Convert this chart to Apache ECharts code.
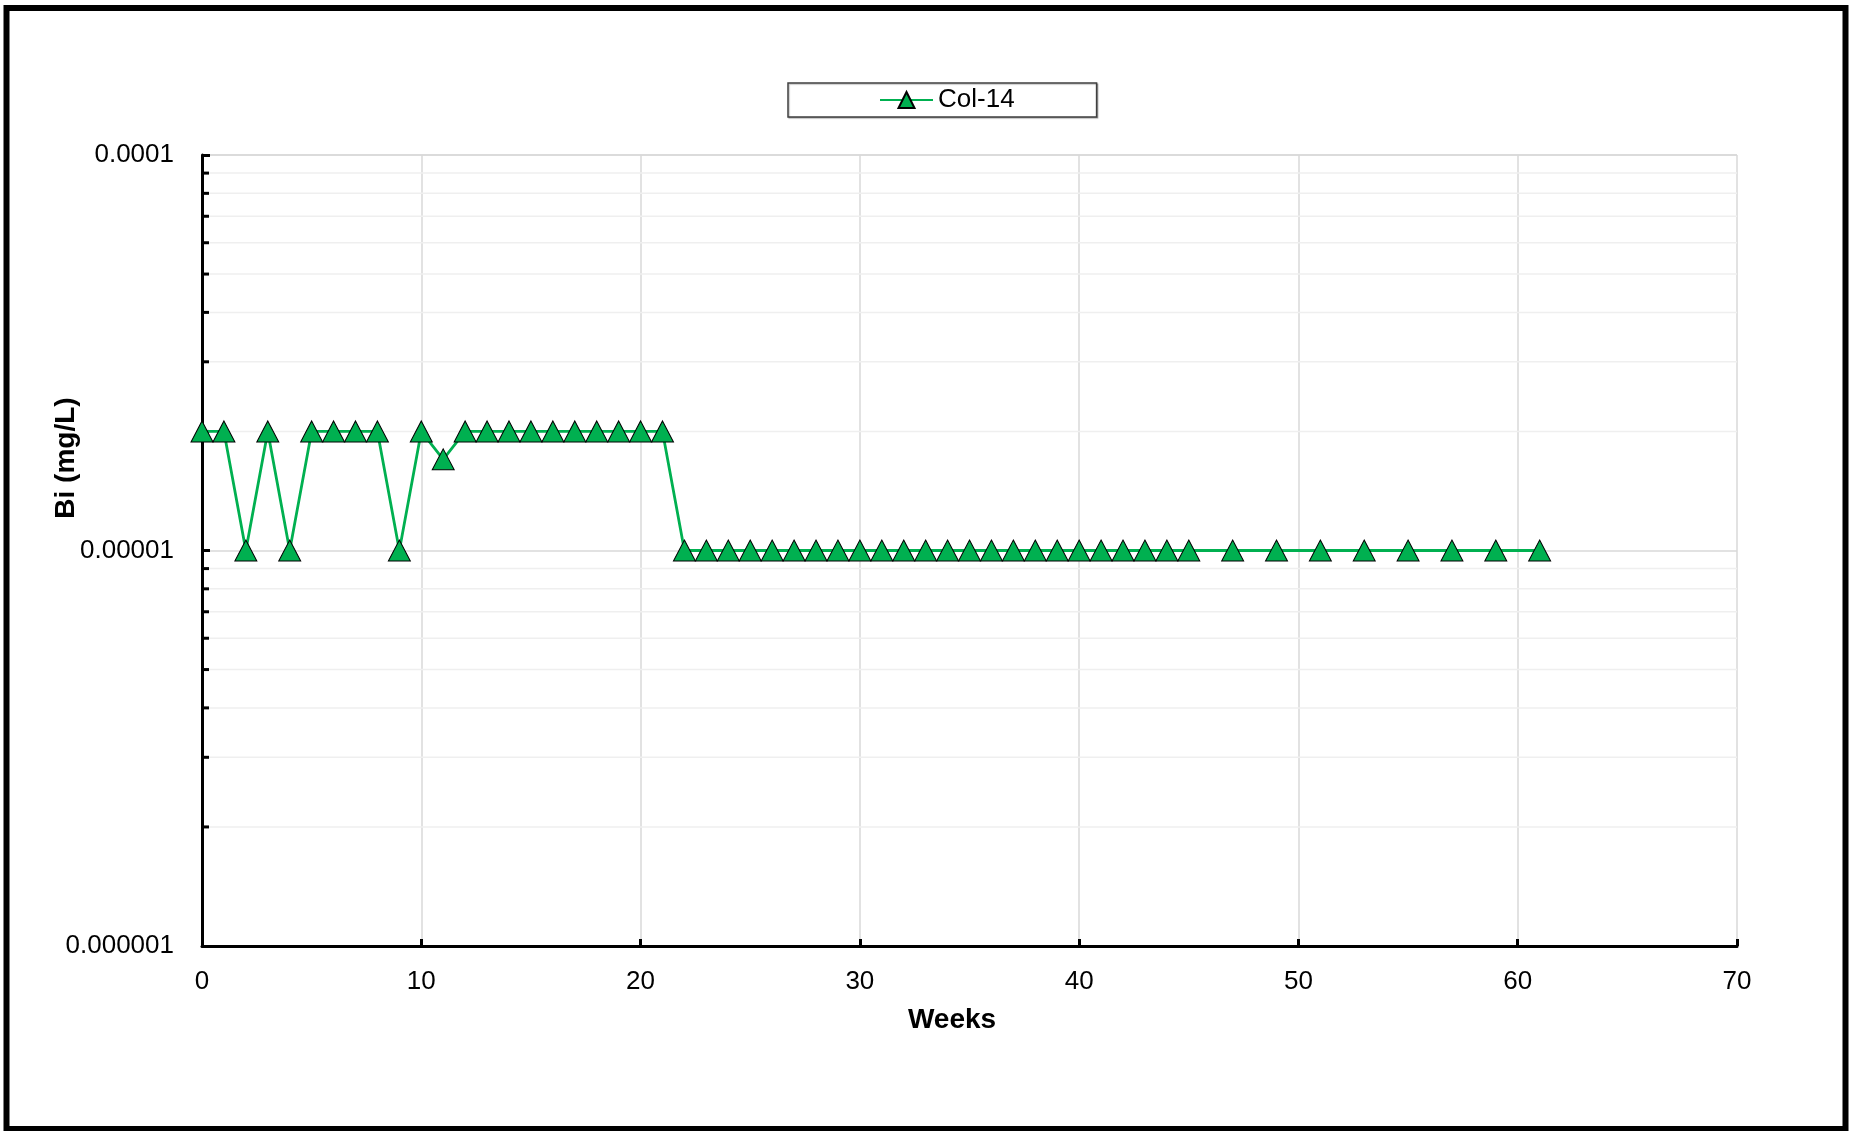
<!DOCTYPE html>
<html>
<head>
<meta charset="utf-8">
<script src="https://cdn.jsdelivr.net/npm/echarts@6/dist/echarts.min.js"></script>
<style>
html,body{margin:0;padding:0;background:#fff;}
#chart{width:1849px;height:1131px;}
</style>
</head>
<body>
<div id="chart"></div>
<script>
// ---- data ----
const seriesName = 'Col-14';
const weeks = [0,1,2,3,4,5,6,7,8,9,10,11,12,13,14,15,16,17,18,19,20,21,22,23,24,25,26,27,28,29,30,31,32,33,34,35,36,37,38,39,40,41,42,43,44,45,47,49,51,53,55,57,59,61];
const biValues = [
  0.00002,0.00002,0.00001,0.00002,0.00001,0.00002,0.00002,0.00002,0.00002,0.00001,
  0.00002,0.000017,0.00002,0.00002,0.00002,0.00002,0.00002,0.00002,0.00002,0.00002,
  0.00002,0.00002,0.00001,0.00001,0.00001,0.00001,0.00001,0.00001,0.00001,0.00001,
  0.00001,0.00001,0.00001,0.00001,0.00001,0.00001,0.00001,0.00001,0.00001,0.00001,
  0.00001,0.00001,0.00001,0.00001,0.00001,0.00001,
  0.00001,0.00001,0.00001,0.00001,0.00001,0.00001,0.00001,0.00001
];
const yTickLabels = ['0.000001','0.00001','0.0001'];
const yMinorTicks = [0.000002,0.000003,0.000004,0.000005,0.000006,0.000007,0.000008,0.000009,
                     0.00002,0.00003,0.00004,0.00005,0.00006,0.00007,0.00008,0.00009];
const xTitle = 'Weeks';
const yTitle = 'Bi (mg/L)';

const FONT = '"Liberation Sans", Arial, sans-serif';
const GREEN = '#00b050';

const chart = echarts.init(document.getElementById('chart'), null, {renderer:'canvas'});

const option = {
  animation: false,
  backgroundColor: '#ffffff',
  grid: { left: 202, top: 155, right: 112, bottom: 185 },
  legend: {
    data: [seriesName],
    left: 788, top: 83,
    padding: [4, 82, 4, 91],
    itemWidth: 53, itemHeight: 20, itemGap: 5,
    borderColor: '#404040', borderWidth: 1.5,
    backgroundColor: '#ffffff',
    shadowColor: 'rgba(0,0,0,0.25)', shadowOffsetX: 1, shadowOffsetY: 1, shadowBlur: 1,
    textStyle: { fontFamily: FONT, fontSize: 26, color: '#000', padding: [2,0,0,0] }
  },
  xAxis: {
    type: 'value', min: 0, max: 70, interval: 10,
    axisLine: { show: true, onZero: false, lineStyle: { color: '#000', width: 3 } },
    axisTick: { show: true, inside: true, length: 7, lineStyle: { color: '#000', width: 3 } },
    axisLabel: { fontFamily: FONT, fontSize: 26, color: '#000', margin: 23 },
    splitLine: { show: true, lineStyle: { color: '#d9d9d9', width: 1.5 } }
  },
  yAxis: {
    type: 'log', logBase: 10, min: 0.000001, max: 0.0001,
    axisLine: { show: true, lineStyle: { color: '#000', width: 3 } },
    axisTick: { show: true, inside: true, length: 8, lineStyle: { color: '#000', width: 3 } },
    axisLabel: {
      fontFamily: FONT, fontSize: 26, color: '#000', margin: 28, padding: [4, 0, 0, 0],
      formatter: function (v) {
        const e = Math.round(Math.log10(v));
        return yTickLabels[e + 6] || '';
      }
    },
    splitLine: { show: true, lineStyle: { color: '#d9d9d9', width: 1.5 } }
  },
  graphic: [
    { type: 'rect', silent: true, z: 100,
      shape: { x: 6.5, y: 8, width: 1839, height: 1121 },
      style: { fill: null, stroke: '#000', lineWidth: 6 } },
    { type: 'text', silent: true, z: 100,
      x: 952, y: 1020,
      style: { text: xTitle, font: 'bold 28px ' + FONT, fill: '#000', textAlign: 'center', textVerticalAlign: 'middle' } },
    { type: 'text', silent: true, z: 100,
      x: 66, y: 458, rotation: Math.PI / 2,
      style: { text: yTitle, font: 'bold 28px ' + FONT, fill: '#000', textAlign: 'center', textVerticalAlign: 'middle' } }
  ],
  series: [
    {
      name: 'minor',
      type: 'custom',
      silent: true,
      z: 1,
      data: yMinorTicks.map(v => [0, v]),
      renderItem: function (params, api) {
        const v = api.value(1);
        const p0 = api.coord([0, v]);
        const p1 = api.coord([70, v]);
        return {
          type: 'group',
          children: [
            { type: 'line', shape: { x1: p0[0], y1: p0[1], x2: p1[0], y2: p1[1] },
              style: { stroke: '#efefef', lineWidth: 1.5 } },
            { type: 'line', shape: { x1: p0[0], y1: p0[1], x2: p0[0] + 7, y2: p0[1] },
              style: { stroke: '#000', lineWidth: 3 } }
          ]
        };
      }
    },
    {
      name: seriesName,
      type: 'line',
      z: 5,
      data: weeks.map((w, i) => [w, biValues[i]]),
      symbol: 'triangle',
      symbolSize: [22, 21],
      showAllSymbol: true,
      lineStyle: { color: GREEN, width: 2.8 },
      itemStyle: { color: GREEN, borderColor: '#000', borderWidth: 1 }
    }
  ]
};
chart.setOption(option);
</script>
</body>
</html>
